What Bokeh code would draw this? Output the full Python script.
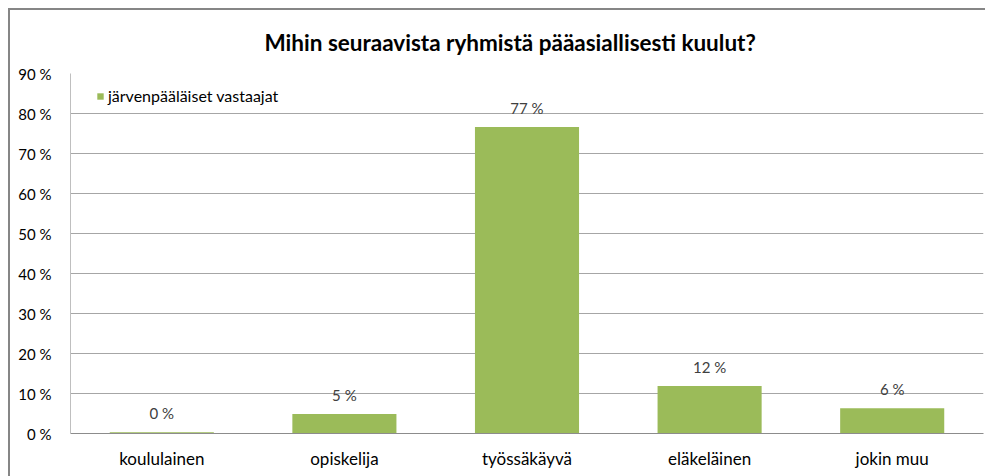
from bokeh.plotting import figure
from bokeh.models import (ColumnDataSource, FactorRange, Range1d, FixedTicker,
                          Legend, LegendItem, LabelSet)
from bokeh.core.properties import value
from bokeh.embed import file_html
from bokeh.resources import INLINE

categories = ["koululainen", "opiskelija", "työssäkäyvä", "eläkeläinen", "jokin muu"]
values = [0.3, 4.9, 76.6, 11.9, 6.3]
value_labels = ["0 %", "5 %", "77 %", "12 %", "6 %"]
y_ticks = [0, 10, 20, 30, 40, 50, 60, 70, 80, 90]
y_tick_labels = {t: f"{t} %" for t in y_ticks}
series_name = "järvenpääläiset vastaajat"
title_text = "Mihin seuraavista ryhmistä pääasiallisesti kuulut?"

FONT = "Lato"
W, H = 985, 476

src = ColumnDataSource(dict(cat=categories, val=values, lab=value_labels))

border_css = ("linear-gradient(#868686, #868686) 8px 8px / 2px 100% no-repeat, "
              "linear-gradient(#868686, #868686) 8px 8px / 100% 2px no-repeat, white")

p = figure(width=W, height=H, x_range=FactorRange(*categories, range_padding=0),
           y_range=Range1d(0, 90), output_backend="svg", toolbar_location=None,
           min_border_left=70, min_border_right=2, min_border_top=73, min_border_bottom=43,
           title=title_text, styles={"background": border_css})
p.outline_line_color = None
p.background_fill_color = "white"
p.border_fill_alpha = 0

p.title.align = "left"
p.title.offset = 194
p.title.standoff = 36
p.title.text_font = FONT
p.title.text_font_size = "22.5px"
p.title.text_font_style = "bold"
p.title.text_color = "#000000"

r = p.vbar(x="cat", top="val", width=0.57, source=src, fill_color="#9bbb59",
           line_color=None)

# value labels
p.add_layout(LabelSet(x="cat", y="val", text="lab", source=src, text_align="center",
                      text_baseline="alphabetic", y_offset=13,
                      text_font=value(FONT), text_font_size=value("15px"), text_color="#404040"))

# axes
p.yaxis.ticker = FixedTicker(ticks=y_ticks)
p.yaxis.major_label_overrides = y_tick_labels
p.yaxis.major_tick_line_color = None
p.yaxis.minor_tick_line_color = None
p.yaxis.axis_line_color = "#bfbfbf"
p.yaxis.major_label_standoff = 13
p.yaxis.major_label_text_font = FONT
p.yaxis.major_label_text_font_size = "15px"
p.yaxis.major_label_text_color = "#000000"

p.xaxis.major_tick_line_color = None
p.xaxis.minor_tick_line_color = None
p.xaxis.axis_line_color = "#8c8c8c"
p.xaxis.major_label_standoff = 8
p.xaxis.major_label_text_font = FONT
p.xaxis.major_label_text_font_size = "17px"
p.xaxis.major_label_text_color = "#000000"

p.xgrid.grid_line_color = None
p.ygrid.grid_line_color = "#a6a6a6"
p.ygrid.grid_line_width = 1

# legend
legend = Legend(items=[LegendItem(label=series_name, renderers=[r])],
                location=(26, 328), orientation="vertical",
                glyph_width=8, glyph_height=8, label_height=8, label_standoff=4,
                label_text_font=FONT, label_text_font_size="16px", label_text_color="#000000",
                padding=0, margin=0, spacing=0, border_line_color=None,
                background_fill_alpha=0)
p.add_layout(legend)

open("out.html", "w").write(file_html(p, INLINE))
